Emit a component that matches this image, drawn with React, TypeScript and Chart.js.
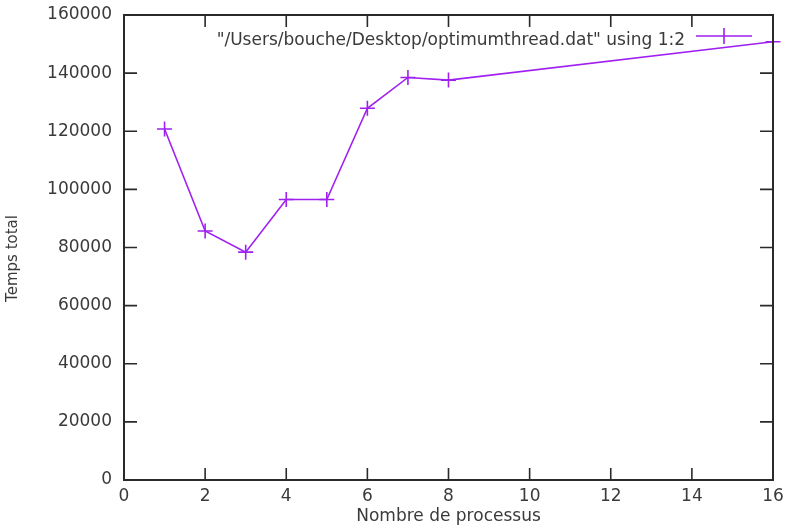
import React, { useEffect, useRef } from "react";
import { Chart, registerables } from "chart.js";

Chart.register(...registerables);

const processCounts = [1, 2, 3, 4, 5, 6, 7, 8, 16];
const totalTimes = [120800, 85700, 78400, 96500, 96500, 127900, 138500, 137600, 150800];
const xTickValues = [0, 2, 4, 6, 8, 10, 12, 14, 16];
const yTickValues = [0, 20000, 40000, 60000, 80000, 100000, 120000, 140000, 160000];
const legendText = '"/Users/bouche/Desktop/optimumthread.dat" using 1:2';
const xTitle = "Nombre de processus";
const yTitle = "Temps total";

const LINE = "#a020f0";
const TEXT = "#3a3a3a";
const FRAME = "#2a2a2a";
const FONT = "DejaVu Sans";

const framePlugin = {
  id: "gnuFrame",
  afterDatasetsDraw(chart: any) {
    const { ctx, chartArea } = chart;
    const { left, right, top, bottom } = chartArea;
    const xs = chart.scales.x;
    const ys = chart.scales.y;
    ctx.save();
    ctx.strokeStyle = FRAME;
    ctx.lineWidth = 1.6;
    ctx.beginPath();
    xTickValues.forEach((v) => {
      const px = xs.getPixelForValue(v);
      ctx.moveTo(px, bottom);
      ctx.lineTo(px, bottom - 12);
      ctx.moveTo(px, top);
      ctx.lineTo(px, top + 12);
    });
    yTickValues.forEach((v) => {
      const py = ys.getPixelForValue(v);
      ctx.moveTo(left, py);
      ctx.lineTo(left + 13, py);
      ctx.moveTo(right, py);
      ctx.lineTo(right - 13, py);
    });
    ctx.stroke();
    ctx.lineWidth = 2;
    ctx.strokeRect(left, top, right - left, bottom - top);

    // y axis title
    ctx.fillStyle = TEXT;
    ctx.font = `15px "${FONT}"`;
    ctx.textAlign = "center";
    ctx.textBaseline = "middle";
    ctx.translate(13, (top + bottom) / 2 + 11);
    ctx.rotate(-Math.PI / 2);
    ctx.fillText(yTitle, 0, 0);
    ctx.restore();

    // legend
    ctx.save();
    const lineEnd = right - 21;
    const lineStart = lineEnd - 56;
    const ly = top + 21;
    ctx.fillStyle = TEXT;
    ctx.font = `17px "${FONT}"`;
    ctx.textAlign = "right";
    ctx.textBaseline = "alphabetic";
    ctx.fillText(legendText, lineStart - 11, ly + 8.5);
    ctx.strokeStyle = LINE;
    ctx.lineWidth = 1.6;
    ctx.beginPath();
    ctx.moveTo(lineStart, ly);
    ctx.lineTo(lineEnd, ly);
    const mx = (lineStart + lineEnd) / 2;
    ctx.moveTo(mx, ly - 8);
    ctx.lineTo(mx, ly + 8);
    ctx.stroke();
    ctx.restore();
  },
};

export default function App() {
  const ref = useRef<HTMLCanvasElement>(null);
  useEffect(() => {
    if (!ref.current) return;
    const chart = new Chart(ref.current, {
      type: "line",
      data: {
        datasets: [
          {
            label: legendText,
            data: processCounts.map((x, i) => ({ x, y: totalTimes[i] })),
            borderColor: LINE,
            backgroundColor: LINE,
            borderWidth: 1.6,
            pointStyle: "cross",
            pointRadius: 7.5,
            pointBorderWidth: 1.6,
            pointBorderColor: LINE,
            tension: 0,
            fill: false,
            clip: false,
          } as any,
        ],
      },
      options: {
        responsive: false,
        animation: false,
        layout: { padding: { top: 15, right: 14, left: 0, bottom: 0 } },
        plugins: { legend: { display: false }, tooltip: { enabled: false } },
        scales: {
          x: {
            type: "linear",
            min: 0,
            max: 16,
            afterBuildTicks: (s: any) => {
              s.ticks = xTickValues.map((v) => ({ value: v }));
            },
            afterFit: (s: any) => {
              s.height = 47;
              s.paddingLeft = 0;
              s.paddingRight = 0;
            },
            ticks: {
              color: TEXT,
              font: { family: FONT, size: 17 },
              padding: 6,
              maxRotation: 0,
              autoSkip: false,
            },
            grid: { display: true, drawOnChartArea: false, drawTicks: false },
            border: { display: false },
            title: {
              display: true,
              text: xTitle,
              color: TEXT,
              font: { family: FONT, size: 17 },
              padding: { top: 0, bottom: 0 },
            },
          },
          y: {
            type: "linear",
            min: 0,
            max: 160000,
            afterBuildTicks: (s: any) => {
              s.ticks = yTickValues.map((v) => ({ value: v }));
            },
            afterFit: (s: any) => {
              s.width = 124;
              s.paddingTop = 0;
              s.paddingBottom = 0;
            },
            ticks: {
              color: TEXT,
              font: { family: FONT, size: 17 },
              padding: 12,
              autoSkip: false,
              callback: (v: any) => String(v),
            },
            grid: { display: true, drawOnChartArea: false, drawTicks: false },
            border: { display: false },
          },
        },
      },
      plugins: [framePlugin],
    });
    return () => chart.destroy();
  }, []);
  return (
    <div style={{ position: "fixed", left: 0, top: 0, width: 787, height: 527, background: "#fff" }}>
      <canvas ref={ref} width={787} height={527} style={{ width: 787, height: 527, display: "block" }} />
    </div>
  );
}
